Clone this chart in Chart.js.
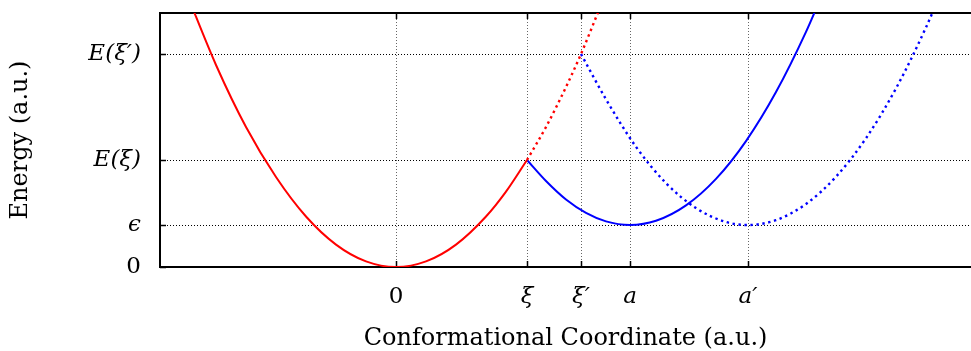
<!DOCTYPE html>
<html>
<head>
<meta charset="utf-8">
<script src="https://cdn.jsdelivr.net/npm/chart.js@4"></script>
<style>
  html, body { margin: 0; padding: 0; background: #fff; overflow: hidden; }
  #wrap { width: 971px; height: 351px; }
</style>
</head>
<body>
<div id="wrap"><canvas id="energyChart" width="971" height="351"></canvas></div>
<script>
// tick positions and labels (a.u.)
const xTickValues = [0, 1.31, 1.85, 2.34, 3.52];
const xTickLabels = ['0', 'ξ', 'ξ′', 'a', 'a′'];
const yTickValues = [0, 0.42, 1.07, 2.13];
const yTickLabels = ['0', 'ϵ', 'E(ξ)', 'E(ξ′)'];

// red well, solid part up to xi
const redSolidX = [-2.1, -1.8, -1.5, -1.2, -0.9, -0.6, -0.3, 0, 0.3, 0.6, 0.9, 1.1, 1.31];
const redSolidY = [2.75, 2.02, 1.40, 0.90, 0.505, 0.224, 0.056, 0, 0.056, 0.224, 0.505, 0.754, 1.07];
// red well, dotted continuation
const redDotX = [1.31, 1.5, 1.7, 1.85, 2.05];
const redDotY = [1.07, 1.40, 1.80, 2.13, 2.62];
// blue well centred on a
const blueSolidX = [1.31, 1.5, 1.7, 1.9, 2.1, 2.34, 2.6, 2.9, 3.2, 3.5, 3.8, 4.1, 4.3];
const blueSolidY = [1.07, 0.86, 0.675, 0.541, 0.456, 0.42, 0.462, 0.616, 0.881, 1.259, 1.749, 2.351, 2.815];
// blue well centred on a', dotted
const blueDotX = [1.85, 2.1, 2.4, 2.7, 3.0, 3.3, 3.52, 3.8, 4.1, 4.4, 4.7, 5.0, 5.3, 5.5];
const blueDotY = [2.13, 1.677, 1.202, 0.839, 0.589, 0.45, 0.42, 0.469, 0.63, 0.903, 1.288, 1.786, 2.396, 2.864];

const serif = "'DejaVu Serif', 'Liberation Serif', serif";
const toPoints = (xs, ys) => xs.map((x, i) => ({ x: x, y: ys[i] }));

const tickFont = ctx => ({
    family: serif,
    size: 23,
    style: ctx.tick && ctx.tick.value !== 0 ? 'italic' : 'normal'
});

// axis frame: top border and inward tick marks
const frameTicks = {
    id: 'frameTicks',
    beforeDatasetsDraw(chart) {
        const { ctx, chartArea: a, scales: { x, y } } = chart;
        ctx.save();
        ctx.strokeStyle = '#000';
        ctx.lineWidth = 2;
        ctx.beginPath();
        ctx.moveTo(a.left - 1, a.top);
        ctx.lineTo(a.right, a.top);
        ctx.stroke();
        ctx.lineWidth = 1.5;
        ctx.beginPath();
        xTickValues.forEach(v => {
            const px = Math.round(x.getPixelForValue(v)) + 0.5;
            ctx.moveTo(px, a.bottom);
            ctx.lineTo(px, a.bottom - 6);
            ctx.moveTo(px, a.top);
            ctx.lineTo(px, a.top + 6);
        });
        yTickValues.forEach(v => {
            const py = Math.round(y.getPixelForValue(v)) + 0.5;
            ctx.moveTo(a.left, py);
            ctx.lineTo(a.left + 6, py);
        });
        ctx.stroke();
        ctx.restore();
    }
};

const lineSet = (xs, ys, color, dotted) => ({
    data: toPoints(xs, ys),
    borderColor: color,
    borderWidth: dotted ? 2.4 : 2,
    borderDash: dotted ? [2.4, 3.6] : [],
    pointRadius: 0,
    fill: false,
    cubicInterpolationMode: 'monotone'
});

new Chart(document.getElementById('energyChart').getContext('2d'), {
    type: 'line',
    data: {
        datasets: [
            lineSet(redSolidX, redSolidY, '#ff0000', false),
            lineSet(redDotX, redDotY, '#ff0000', true),
            lineSet(blueSolidX, blueSolidY, '#0000ff', false),
            lineSet(blueDotX, blueDotY, '#0000ff', true)
        ]
    },
    options: {
        responsive: false,
        animation: false,
        layout: { padding: { top: 13, right: 0, bottom: 0, left: 0 } },
        plugins: {
            legend: { display: false },
            tooltip: { enabled: false }
        },
        scales: {
            x: {
                type: 'linear',
                min: -2.36,
                max: 5.75,
                afterBuildTicks: s => { s.ticks = xTickValues.map(v => ({ value: v })); },
                afterFit: s => {
                    s.height = 84;
                    s.paddingLeft = 0;
                    s.paddingRight = 0;
                },
                grid: { color: '#666', lineWidth: 1, drawTicks: false },
                border: { display: true, color: '#000', width: 2, dash: [1, 2] },
                ticks: {
                    padding: 16,
                    color: '#000',
                    maxRotation: 0,
                    font: tickFont,
                    callback: (v, i) => xTickLabels[i]
                },
                title: {
                    display: true,
                    text: 'Conformational Coordinate (a.u.)',
                    color: '#000',
                    font: { family: serif, size: 24 },
                    padding: { top: 0, bottom: -2 }
                }
            },
            y: {
                type: 'linear',
                min: 0,
                max: 2.54,
                afterBuildTicks: s => { s.ticks = yTickValues.map(v => ({ value: v })); },
                afterFit: s => {
                    s.width = 160;
                    s.paddingTop = 0;
                    s.paddingBottom = 0;
                },
                grid: { color: '#000', lineWidth: 1, drawTicks: false },
                border: { display: true, color: '#000', width: 2, dash: [1, 2] },
                ticks: {
                    padding: 19,
                    color: '#000',
                    font: tickFont,
                    callback: (v, i) => yTickLabels[i]
                },
                title: {
                    display: true,
                    text: 'Energy (a.u.)',
                    color: '#000',
                    font: { family: serif, size: 24 },
                    padding: { top: 6, bottom: 0 }
                }
            }
        }
    },
    plugins: [frameTicks]
});
</script>
</body>
</html>
